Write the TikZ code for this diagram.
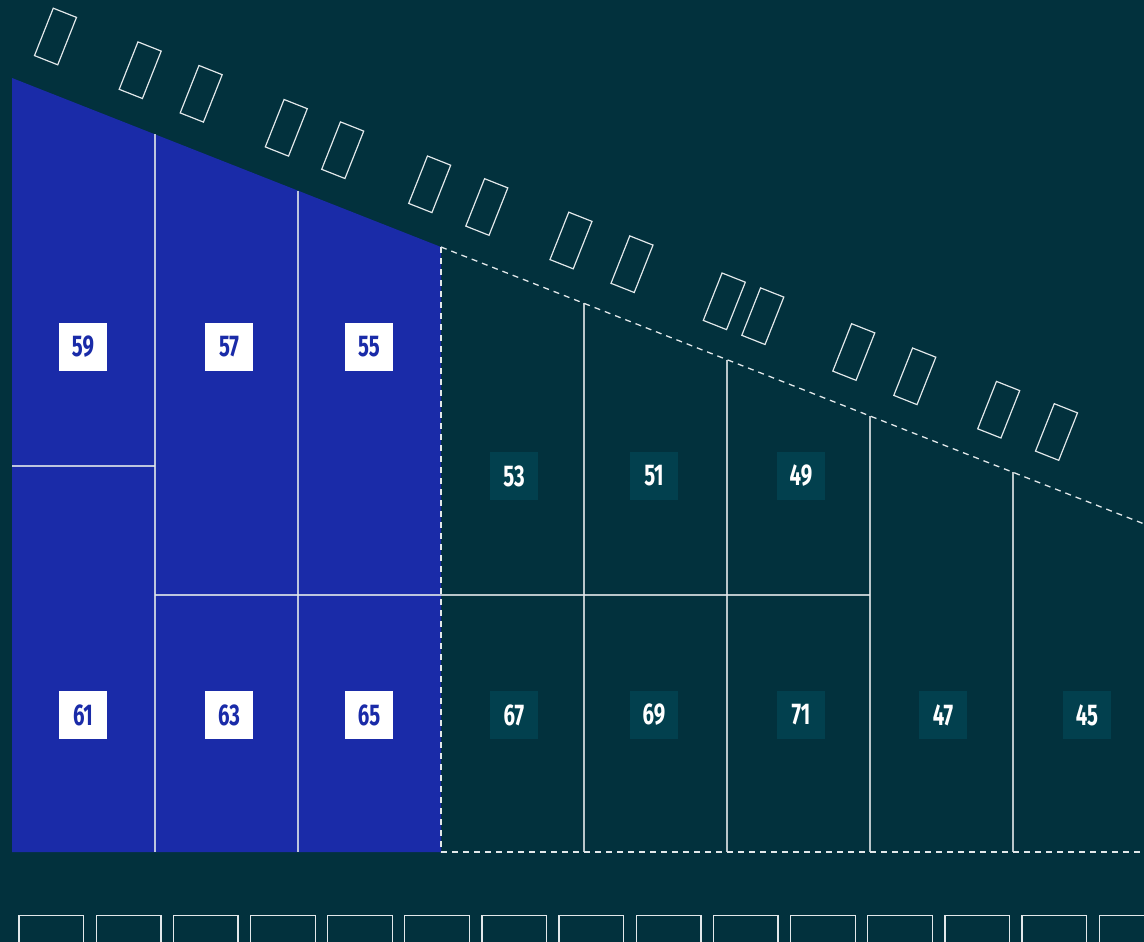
\documentclass[tikz,border=0pt]{standalone}
\usepackage{fontspec}
\newfontfamily\numfont[FakeStretch=0.68]{Fira Sans}
\definecolor{bg}{HTML}{02313D}
\definecolor{blu}{HTML}{1A2BA8}
\definecolor{tealbox}{HTML}{02404E}
\definecolor{ln}{HTML}{E2E8EA}
\begin{document}
\begin{tikzpicture}[x=1pt,y=-1pt,
  grid/.style={draw=ln,draw opacity=0.82,line width=1.3pt},
  dline/.style={draw=ln,line width=1.3pt,dash pattern=on 6pt off 5pt},
  car/.style={draw=ln,line width=1.2pt,minimum width=25pt,minimum height=51pt,inner sep=0pt,rotate=-21.6},
  labfont/.style={font=\numfont\bfseries\fontsize{30}{30}\selectfont},
  wlab/.style={labfont,fill=white,text=blu,minimum size=48pt,inner sep=0pt},
  tlab/.style={labfont,fill=tealbox,text=white,minimum size=48pt,inner sep=0pt},
  slot/.style={draw=ln,line width=1.3pt}]
\useasboundingbox (0,0) rectangle (1144,942);
\fill[bg] (0,0) rectangle (1144,942);
\clip (0,0) rectangle (1144,942);
% blue area
\fill[blu] (12,78) -- (441,247) -- (441,852) -- (12,852) -- cycle;
% grid lines
\draw[grid] (155,134.3) -- (155,852);
\draw[grid] (298,190.7) -- (298,852);
\draw[grid] (584,303.3) -- (584,852);
\draw[grid] (727,359.7) -- (727,852);
\draw[grid] (870,416) -- (870,852);
\draw[grid] (1013,472.3) -- (1013,852);
\draw[grid] (12,466) -- (155,466);
\draw[grid] (155,595) -- (870,595);
\draw[dline] (441,247) -- (441,852);
\draw[dline] (441,247) -- (1144,523.9);
\draw[dline] (441,852) -- (1144,852);
% tilted rectangles
\foreach \n/\x/\y in {1/55.5/36.5, 2/140.2/70.2, 3/201.2/93.8, 4/286.3/127.8, 5/342.7/150.2,
  6/429.7/184.3, 7/486.8/207, 8/571/240.5, 9/632/264.2, 10/724.3/301.3, 11/762.8/316.2,
  12/853.8/352, 13/914.8/376.3, 14/998.7/409.7, 15/1056.5/432}
  \node[car] (r\n) at (\x,\y) {};
% labels
\node[wlab] (l59) at (83,347) {59};
\node[wlab] (l57) at (229,347) {57};
\node[wlab] (l55) at (369,347) {55};
\node[wlab] (l61) at (83,715) {61};
\node[wlab] (l63) at (229,715) {63};
\node[wlab] (l65) at (369,715) {65};
\node[tlab] (l53) at (514,476) {53};
\node[tlab] (l51) at (654,476) {51};
\node[tlab] (l49) at (801,476) {49};
\node[tlab] (l67) at (514,715) {67};
\node[tlab] (l69) at (654,715) {69};
\node[tlab] (l71) at (801,715) {71};
\node[tlab] (l47) at (943,715) {47};
\node[tlab] (l45) at (1087,715) {45};
% bottom slots
\foreach \i in {0,...,14}
  \draw[slot] ({19+77.16*\i},915.3) rectangle ++(64.7,40);
\end{tikzpicture}
\end{document}
